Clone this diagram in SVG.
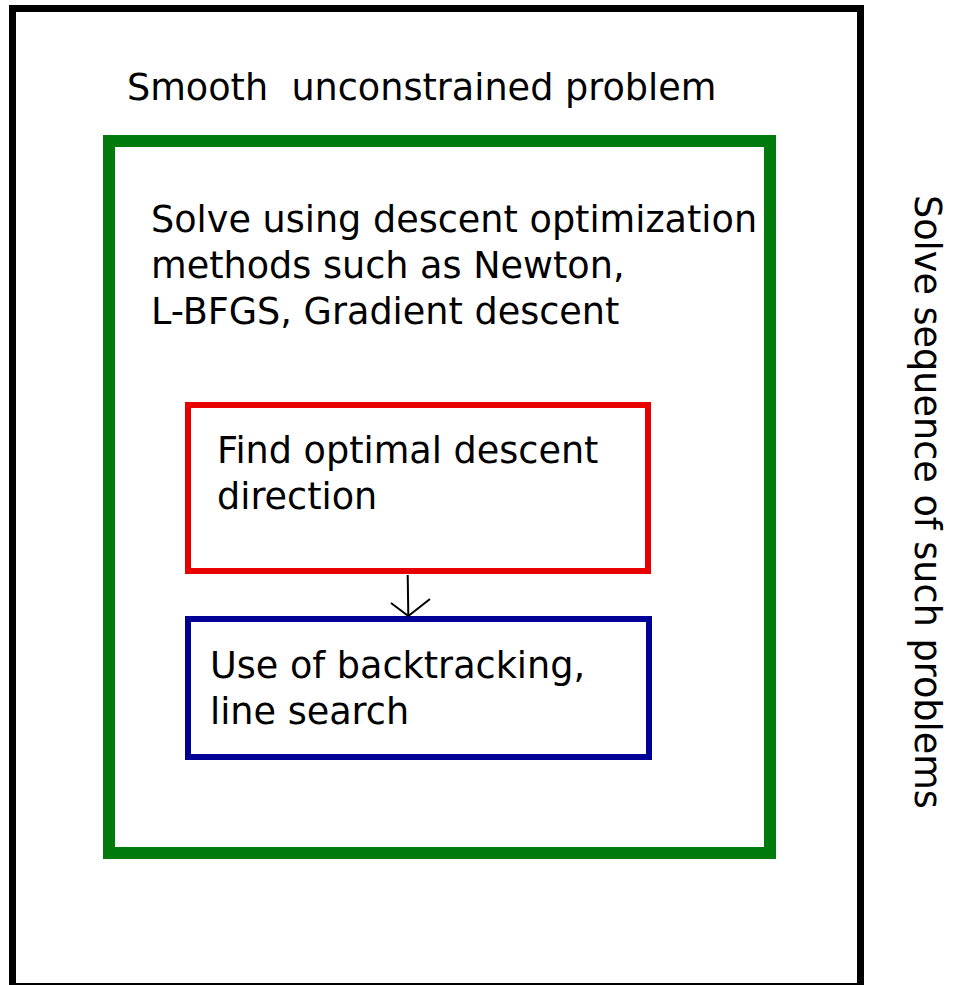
<svg xmlns="http://www.w3.org/2000/svg" width="953" height="985" viewBox="0 0 953 985">
<style>
text{font-family:"DejaVu Sans",Verdana,sans-serif;font-size:36.6px;fill:#000;white-space:pre}
.box{fill:none}
</style>
<rect width="953" height="985" fill="#fff"/>
<g id="outer">
<rect class="box" x="12.5" y="8.5" width="848" height="978" stroke="#000" stroke-width="7"/>
<text x="127" y="100" xml:space="preserve">Smooth  unconstrained problem</text>
<text transform="translate(915,195) rotate(90)">Solve sequence of such problems</text>
</g>
<g id="green">
<rect class="box" x="109" y="141" width="661" height="712" stroke="#007a0a" stroke-width="12"/>
<text x="151" y="232">Solve using descent optimization</text>
<text x="151" y="278">methods such as Newton,</text>
<text x="151" y="324">L-BFGS, Gradient descent</text>
</g>
<g id="red">
<rect class="box" x="188" y="405" width="460" height="166" stroke="#e80000" stroke-width="6"/>
<text x="217" y="463">Find optimal descent</text>
<text x="217" y="509">direction</text>
</g>
<g id="blue">
<rect class="box" x="188" y="619" width="461" height="138" stroke="#000096" stroke-width="6"/>
<text x="210" y="678">Use of backtracking,</text>
<text x="210" y="724">line search</text>
</g>
<g id="connectors">
<line x1="407.7" y1="575" x2="408.3" y2="615" stroke="#000" stroke-width="2"/>
<path d="M391,603 L408.3,616 L430,599" fill="none" stroke="#000" stroke-width="2"/>
</g>
</svg>
